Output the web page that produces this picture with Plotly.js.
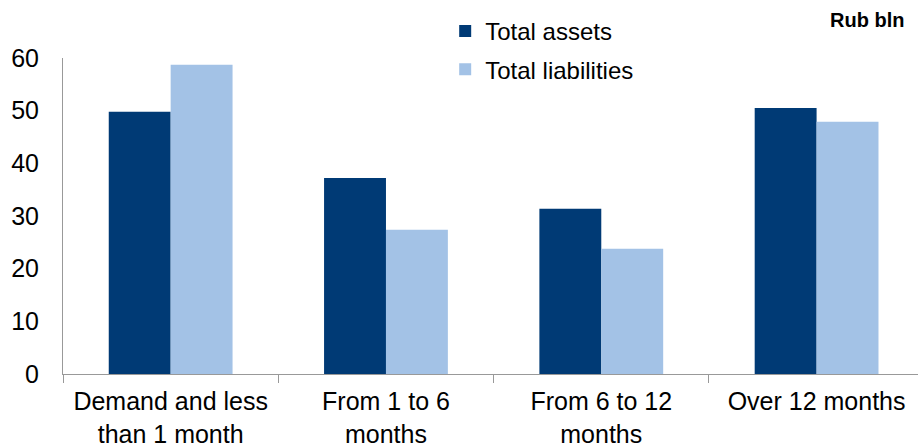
<!DOCTYPE html>
<html>
<head>
<meta charset="utf-8">
<script src="https://cdn.plot.ly/plotly-3.0.1.min.js"></script>
<style>html,body{margin:0;padding:0;background:#fff;}#chart{width:918px;height:448px;}</style>
</head>
<body>
<div id="chart"></div>
<script>
var categories = ["Demand and less<br>than 1 month", "From 1 to 6<br>months", "From 6 to 12<br>months", "Over 12 months"];
var totalAssets = [49.8, 37.2, 31.4, 50.5];
var totalLiabilities = [58.7, 27.4, 23.8, 47.9];
var yTicks = [0, 10, 20, 30, 40, 50, 60];
var unitLabel = "Rub bln";

var font = "Arial, 'Liberation Sans', sans-serif";
var data = [
  {type: "bar", name: "Total assets", x: categories, y: totalAssets,
   marker: {color: "#003A75"}, legendgroup: "a"},
  {type: "bar", name: "Total liabilities", x: categories, y: totalLiabilities,
   marker: {color: "#A3C2E6"}, legendgroup: "b"}
];
var layout = {
  width: 918, height: 448,
  margin: {l: 63, r: 0, t: 58, b: 74, pad: 0},
  paper_bgcolor: "#fff", plot_bgcolor: "#fff",
  font: {family: font, color: "#000", size: 24},
  barmode: "group", bargap: 0.425, bargroupgap: 0,
  showlegend: true,
  legend: {x: 0.447, xanchor: "left", y: 1.155, yanchor: "top",
           traceorder: "grouped", tracegroupgap: 4,
           font: {family: font, size: 24, color: "#000"}, bgcolor: "rgba(0,0,0,0)"},
  xaxis: {type: "category", range: [-0.5, 3.471], tickson: "boundaries",
          ticks: "outside", ticklen: 8, tickcolor: "#999", tickwidth: 1,
          showline: true, linecolor: "#999", linewidth: 1,
          showgrid: false, zeroline: false, ticklabelstandoff: 5,
          tickfont: {family: font, size: 25, color: "#000"}},
  yaxis: {range: [0, 60], tickvals: yTicks, ticktext: yTicks.map(String),
          showline: true, linecolor: "#999", linewidth: 1, ticks: "",
          showgrid: false, zeroline: false, ticklabelstandoff: 18,
          tickfont: {family: font, size: 25, color: "#000"}},
  annotations: [{text: "<b>" + unitLabel + "</b>", xref: "paper", yref: "paper",
                 x: 0.986, xanchor: "right", y: 1.12, yanchor: "middle", showarrow: false,
                 font: {family: font, size: 20, color: "#000"}}]
};
Plotly.newPlot("chart", data, layout, {displayModeBar: false, staticPlot: true});
</script>
</body>
</html>
